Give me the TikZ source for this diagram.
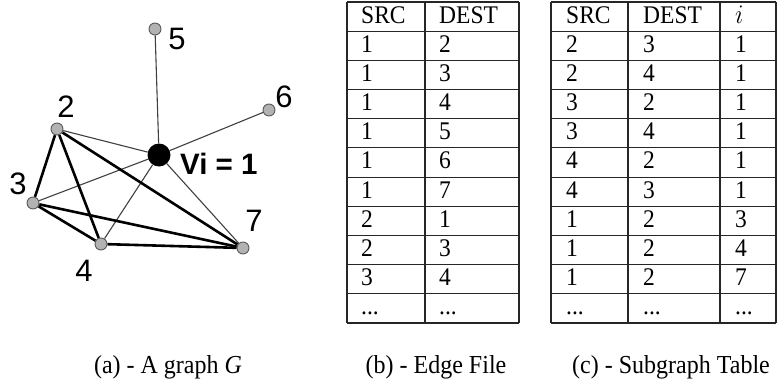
\documentclass[tikz,border=0pt]{standalone}
\usepackage{fontspec}
\setmainfont{Liberation Serif}
\newfontfamily\graphfont{Liberation Sans}
\newcommand\moredots{...}
\pgfdeclarelayer{background}
\pgfsetlayers{background,main}
\tikzset{
  vert/.style={circle,draw=black!65,fill=black!30,line width=0.9pt,minimum size=12pt,inner sep=0pt},
  hub/.style={circle,fill=black,minimum size=23pt,inner sep=0pt},
  vlabel/.style={font=\graphfont\fontsize{31}{35}\selectfont,inner sep=0pt},
  thinedge/.style={draw=black!75,line width=1.1pt},
  thickedge/.style={draw=black,line width=2.6pt},
  cell/.style={font=\fontsize{23.5}{27}\selectfont,anchor=base west,inner sep=0pt,yscale=1.08},
  grid/.style={draw=black!85,line width=1.1pt},
  caption/.style={font=\fontsize{24}{28}\selectfont,anchor=base,inner sep=0pt,yscale=1.08}
}
\begin{document}
\begin{tikzpicture}[x=1pt,y=-1pt]
\useasboundingbox (0,0) rectangle (777,383);

% ---- graph G ----
\node[hub]  (v1) at (159,155) {};
\node[vert] (v2) at (57,129) {};
\node[vert] (v3) at (33,203) {};
\node[vert] (v4) at (101,244) {};
\node[vert] (v5) at (155,29) {};
\node[vert] (v6) at (269,110) {};
\node[vert] (v7) at (243,248) {};

\node[vlabel] (l5) at (177,39) {5};
\node[vlabel] (l6) at (284,97) {6};
\node[vlabel] (l2) at (66,107) {2};
\node[vlabel] (l3) at (18,184) {3};
\node[vlabel] (l4) at (84,271) {4};
\node[vlabel] (l7) at (254,221) {7};
\node[font=\graphfont\bfseries\fontsize{29.5}{33}\selectfont,inner sep=0pt,anchor=west] (l1) at (180,164) {Vi = 1};

\begin{pgfonlayer}{background}
  \foreach \t in {v2,v3,v4,v5,v6,v7} \draw[thinedge] (v1) -- (\t);
  \draw[thickedge] (v2) -- (v3);
  \draw[thickedge] (v2) -- (v4);
  \draw[thickedge] (v2) -- (v7);
  \draw[thickedge] (v3) -- (v4);
  \draw[thickedge] (v3) -- (v7);
  \draw[thickedge] (v4) -- (v7);
\end{pgfonlayer}

% ---- edge file table ----
\def\rh{29.18}
\foreach \k in {0,...,11} \draw[grid] (347,{2+\k*\rh}) -- (519,{2+\k*\rh});
\foreach \x in {347,425,519} \draw[grid] (\x,2) -- (\x,323);
\node[cell] (bh1) at (361,23) {SRC};
\node[cell] (bh2) at (439,23) {DEST};
\foreach [count=\r] \s/\d in {1/2,1/3,1/4,1/5,1/6,1/7,2/1,2/3,3/4,\moredots/\moredots} {
  \node[cell] (b\r s) at (361,{23+\r*\rh}) {\s};
  \node[cell] (b\r d) at (439,{23+\r*\rh}) {\d};
}

% ---- subgraph table ----
\foreach \k in {0,...,11} \draw[grid] (551,{2+\k*\rh}) -- (776,{2+\k*\rh});
\foreach \x in {551,628,720,776} \draw[grid] (\x,2) -- (\x,323);
\node[cell] (ch1) at (566,23) {SRC};
\node[cell] (ch2) at (643,23) {DEST};
\node[cell] (ch3) at (735,23) {$i$};
\foreach [count=\r] \s/\d/\v in {2/3/1,2/4/1,3/2/1,3/4/1,4/2/1,4/3/1,1/2/3,1/2/4,1/2/7,\moredots/\moredots/\moredots} {
  \node[cell] (c\r s) at (566,{23+\r*\rh}) {\s};
  \node[cell] (c\r d) at (643,{23+\r*\rh}) {\d};
  \node[cell] (c\r v) at (735,{23+\r*\rh}) {\v};
}

% ---- captions ----
\node[caption] (capa) at (168,373) {(a) - A graph \textit{G}};
\node[caption] (capb) at (436,373) {(b) - Edge File};
\node[caption] (capc) at (671,373) {(c) - Subgraph Table};
\end{tikzpicture}
\end{document}
